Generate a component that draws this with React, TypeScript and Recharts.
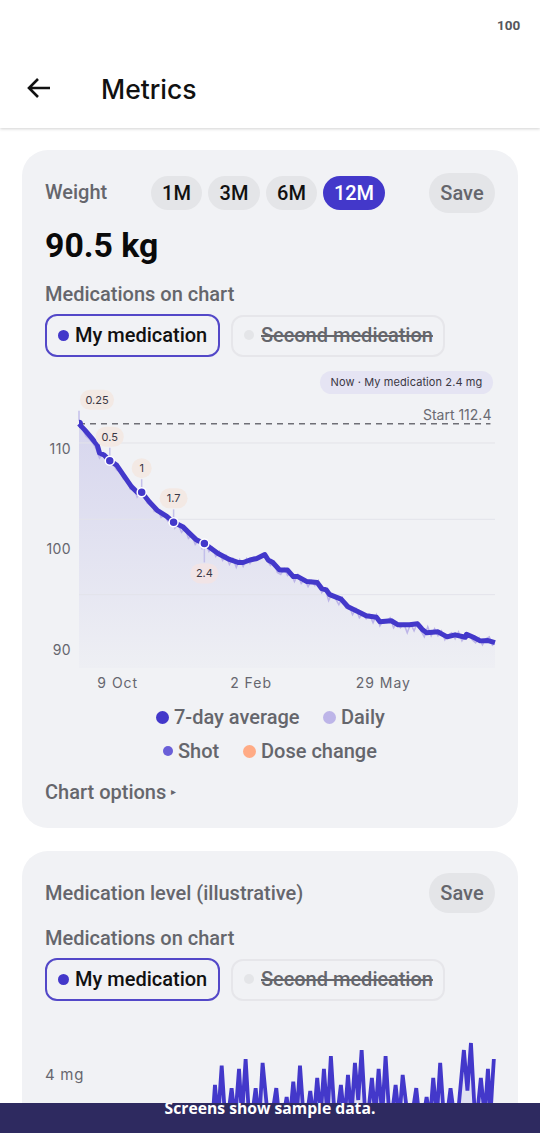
import React from 'react';
import { ComposedChart, Area, Line, XAxis, YAxis, ReferenceLine, Label } from 'recharts';

const INDIGO = '#4338ca';
const UI_FONT = 'Roboto, sans-serif';
const CHART_FONT = 'Inter, sans-serif';

// weight chart, x is days since the start of the 12M window
const avgDays = [0, 5, 11, 16, 18, 22, 27, 33, 39, 46, 51, 55, 62, 69, 77, 83, 91, 97, 103, 110, 116, 122, 127, 132, 140, 144, 150, 156, 163, 166, 170, 176, 183, 188, 192, 200, 209, 213, 217, 220, 230, 236, 245, 252, 261, 264, 274, 280, 290, 297, 301, 305, 315, 323, 330, 339, 340, 346, 352, 359, 365];
const avgWeight = [112.4, 111.8, 111.0, 110.3, 109.5, 109.3, 108.74, 108.3, 107.3, 106.15, 105.6, 105.6, 104.6, 103.76, 103.2, 102.6, 102.17, 101.5, 100.85, 100.5, 100.0, 99.5, 99.2, 98.9, 98.6, 98.6, 98.85, 99.0, 99.4, 98.85, 98.6, 97.85, 97.85, 97.2, 97.2, 96.7, 96.6, 96.0, 95.87, 95.4, 94.95, 94.2, 93.7, 93.3, 93.15, 92.7, 92.8, 92.4, 92.4, 92.5, 91.96, 91.6, 91.7, 91.2, 91.4, 91.16, 91.46, 91.16, 90.8, 90.83, 90.63];
// one reading every 3 days
const dailyWeight = [112.4, 111.9, 111.2, 110.9, 110.5, 109.9, 109.0, 109.5, 108.6, 108.3, 108.4, 107.8, 107.6, 106.9, 106.9, 105.9, 106.0, 105.1, 105.6, 105.2, 104.5, 104.7, 103.7, 103.9, 103.1, 103.3, 102.7, 102.9, 102.0, 102.4, 101.6, 102.0, 101.0, 101.3, 100.4, 100.8, 100.0, 100.6, 99.7, 100.1, 99.2, 99.7, 98.8, 99.3, 98.4, 99.0, 98.1, 98.9, 98.2, 99.0, 98.5, 99.1, 98.8, 99.2, 99.2, 98.8, 98.3, 98.7, 97.6, 97.4, 98.0, 97.3, 97.6, 96.7, 97.4, 96.5, 96.9, 96.2, 96.8, 96.3, 96.8, 95.6, 96.0, 94.8, 95.5, 95.0, 94.4, 95.1, 94.1, 94.3, 93.4, 94.0, 93.1, 93.5, 93.0, 93.4, 92.6, 93.4, 92.3, 92.9, 92.8, 93.1, 92.1, 92.6, 92.1, 92.5, 91.6, 92.5, 91.8, 92.6, 91.8, 91.2, 92.2, 91.3, 92.0, 91.3, 91.8, 90.9, 91.4, 91.6, 91.0, 91.7, 90.8, 91.3, 91.5, 90.9, 90.6, 91.1, 90.4, 91.0, 91.2, 90.3];
const doseDays = [0, 27, 55, 83, 110];
const doseWeight = [112.4, 108.74, 105.6, 102.6, 100.5];
const doseLabels = ['0.25', '0.5', '1', '1.7', '2.4'];
const weightTicks = [90, 100, 110];
const gridWeights = [110.5, 102.9, 95.4];
const dateTicks = [34, 151, 267];
const dateLabels = ['9 Oct', '2 Feb', '29 May'];
const startWeight = 112.4;

// medication level chart, peak and trough in turn
const levelDays = [0, 116, 119.3, 122, 125.2, 129, 133.9, 137, 140.4, 143, 146.2, 150, 155, 158, 161.1, 167, 173.1, 177, 182.2, 185, 188, 191, 193.9, 198, 202.9, 206, 209, 212, 214.9, 218, 221, 225, 229.8, 233, 236, 239, 242.1, 245, 248, 252, 257, 260, 262.9, 266, 269, 273, 277.8, 281, 284, 290, 295.9, 300, 305, 308, 310.8, 314, 316.9, 321, 326, 331, 337.7, 340.8, 343.9, 348, 352.6, 356, 358.8, 361, 364];
const levelValues = [2, 2, 3.69, 2.6, 4.29, 2.2, 3.59, 2.6, 4.19, 2.7, 4.5, 2.2, 3.59, 2.5, 4.38, 2.2, 3.59, 2.2, 3.31, 2.6, 3.79, 2.7, 4.29, 2.2, 3.5, 2.6, 3.91, 2.7, 4.19, 2.7, 4.59, 2.3, 3.69, 2.6, 4.0, 2.7, 4.38, 3.22, 4.78, 2.2, 3.91, 2.7, 4.19, 2.7, 4.59, 2.3, 3.69, 2.6, 4.0, 2.2, 3.59, 2.2, 3.31, 2.6, 3.91, 2.7, 4.38, 2.2, 3.59, 2.2, 4.78, 3.51, 5.0, 2.3, 3.91, 2.7, 4.19, 2.8, 4.5];

const avgData = avgDays.map((day, i) => ({ day, avg: avgWeight[i] }));
const dailyData = dailyWeight.map((daily, i) => ({ day: i * 3, daily }));
const doseData = doseDays.map((day, i) => ({ day, dose: doseWeight[i], label: doseLabels[i] }));
const levelData = levelDays.map((day, i) => ({ day, level: levelValues[i] }));

const DoseDot = (props: any) => {
  const { cx, cy, index, payload } = props;
  const below = index === 4;
  const w = payload.label.length > 3 ? 34 : payload.label.length > 1 ? 28 : 20;
  const lx = index === 0 ? cx + 18 : cx;
  const ly = below ? cy + 30 : cy - 24;
  const stemTop = below ? cy + 5 : cy - 13;
  const stemEnd = below ? cy + 19 : cy - 3;
  return (
    <g key={index}>
      <line x1={cx} x2={cx} y1={stemTop} y2={stemEnd} stroke="#c3bfea" strokeWidth={1.5} />
      <rect x={lx - w / 2} y={ly - 10} width={w} height={20} rx={10} fill={below ? '#f1e4e6' : '#f3e9e4'} />
      <text x={lx} y={ly + 4} textAnchor="middle" fontSize={11} fontFamily={CHART_FONT} fill="#3a3744">{payload.label}</text>
      {index === 0 ? (
        <path d={`M${cx} ${cy - 4}A4 4 0 0 1 ${cx} ${cy + 4}Z`} fill={INDIGO} />
      ) : (
        <circle cx={cx} cy={cy} r={4.5} fill={INDIGO} stroke="#fff" strokeWidth={1.5} />
      )}
    </g>
  );
};

const WeightChart = () => (
  <ComposedChart width={540} height={338} margin={{ top: 7, right: 45, bottom: 0, left: 0 }}>
    <defs>
      <linearGradient id="weightFill" x1="0" y1="0" x2="0" y2="1">
        <stop offset="0%" stopColor="#c5c3e9" />
        <stop offset="100%" stopColor="#ecedf3" />
      </linearGradient>
    </defs>
    <XAxis
      dataKey="day"
      type="number"
      domain={[0, 365]}
      ticks={dateTicks}
      tickFormatter={(d) => dateLabels[dateTicks.indexOf(d)]}
      height={30}
      axisLine={false}
      tickLine={false}
      tickMargin={4}
      tick={{ fontSize: 14, fill: '#66666e', fontFamily: CHART_FONT, letterSpacing: 1 }}
    />
    <YAxis
      type="number"
      domain={[88.1, 118.06]}
      ticks={weightTicks}
      width={79}
      axisLine={false}
      tickLine={false}
      tickSize={0}
      tickMargin={8}
      tick={{ fontSize: 14, fill: '#66666e', fontFamily: CHART_FONT, letterSpacing: 0.4, dy: 1 }}
    />
    <Area data={avgData} dataKey="avg" type="linear" stroke="none" fill="url(#weightFill)" isAnimationActive={false} />
    {gridWeights.map((g) => (
      <ReferenceLine key={g} y={g} stroke="#e3e3ea" strokeWidth={1} />
    ))}
    <ReferenceLine segment={[{ x: 0, y: startWeight }, { x: 361, y: startWeight }]} stroke="#6f6f76" strokeWidth={1.5} strokeDasharray="6 5">
      <Label value="Start 112.4" position="insideBottomRight" offset={3} dx={4} dy={-1} fontSize={14} fill="#6a6a72" fontFamily={CHART_FONT} />
    </ReferenceLine>
    <Line data={dailyData} dataKey="daily" type="linear" stroke="#bdb5e8" strokeWidth={1.5} dot={false} isAnimationActive={false} />
    <Line data={avgData} dataKey="avg" type="linear" stroke={INDIGO} strokeWidth={5} strokeLinejoin="round" dot={false} isAnimationActive={false} />
    <Line data={doseData} dataKey="dose" stroke="none" dot={DoseDot} isAnimationActive={false} />
  </ComposedChart>
);

const LevelChart = () => (
  <ComposedChart width={540} height={192} margin={{ top: 0, right: 45, bottom: 0, left: 0 }}>
    <XAxis dataKey="day" type="number" domain={[0, 365]} hide />
    <YAxis
      type="number"
      domain={[0, 6]}
      ticks={[4]}
      width={79}
      axisLine={false}
      tickLine={false}
      tick={(p: any) => (
        <text x={45} y={p.y + 5} fontSize={15} fill="#66666e" fontFamily={CHART_FONT} letterSpacing={0.7}>4 mg</text>
      )}
    />
    <Area data={levelData} dataKey="level" type="linear" stroke={INDIGO} strokeWidth={3.8} strokeLinejoin="bevel" fill="#d6d5ee" isAnimationActive={false} />
  </ComposedChart>
);

const Box = ({ x, y, w, h, style, children }: any) => (
  <div style={{ position: 'absolute', left: x, top: y, width: w, height: h, boxSizing: 'border-box', ...style }}>{children}</div>
);

// text is placed by its left edge and vertical centre
const Txt = ({ x, cy, size = 20, weight = 500, color = '#65666c', font = UI_FONT, style, children }: any) => (
  <div style={{ position: 'absolute', left: x, top: cy - 20, height: 40, lineHeight: '40px', fontSize: size, fontWeight: weight, color, fontFamily: font, whiteSpace: 'nowrap', ...style }}>
    {children}
  </div>
);

const Pill = ({ x, y, w, h, bg = '#e4e5e8', color = '#111', size = 20, children }: any) => (
  <Box x={x} y={y} w={w} h={h} style={{ background: bg, borderRadius: h / 2, color, fontFamily: UI_FONT, fontSize: size, fontWeight: 500, textAlign: 'center', lineHeight: h + 'px' }}>
    {children}
  </Box>
);

const Dot = ({ cx, cy, r, color }: any) => (
  <Box x={cx - r} y={cy - r} w={r * 2} h={r * 2} style={{ borderRadius: '50%', background: color }} />
);

const MedChips = ({ y }: any) => (
  <>
    <Box x={45} y={y} w={175} h={43} style={{ border: '2px solid #5348c8', borderRadius: 12 }} />
    <Dot cx={63} cy={y + 21} r={5.5} color={INDIGO} />
    <Txt x={75} cy={y + 21} size={20} color="#111">My medication</Txt>
    <Box x={231} y={y + 1} w={214} h={42} style={{ border: '2px solid #e6e6ea', borderRadius: 12 }} />
    <Dot cx={249} cy={y + 21} r={5} color="#e4e5e8" />
    <Txt x={261} cy={y + 21} size={20} style={{ textDecoration: 'line-through' }}>Second medication</Txt>
  </>
);

export default function App() {
  return (
    <div style={{ position: 'fixed', left: 0, top: 0, width: 540, height: 1133, overflow: 'hidden', background: '#fff' }}>
      <Box x={0} y={0} w={540} h={128} style={{ background: '#fff', boxShadow: '0 1px 3px rgba(0,0,0,0.18)' }} />
      <Txt x={497} cy={25} size={13.5} weight={700} color="#55565c">100</Txt>
      <svg style={{ position: 'absolute', left: 26, top: 76 }} width={26} height={24} viewBox="0 0 26 24">
        <path d="M24 12 H3 M12 3 L3 12 L12 21" fill="none" stroke="#111" strokeWidth={2.6} />
      </svg>
      <Txt x={101} cy={89} size={26.5} color="#111" font={CHART_FONT}>Metrics</Txt>

      <Box x={22} y={150} w={496} h={678} style={{ background: '#f1f2f5', borderRadius: 26 }} />
      <Txt x={45} cy={192}>Weight</Txt>
      <Pill x={151} y={176} w={51} h={34}>1M</Pill>
      <Pill x={208} y={176} w={52} h={34}>3M</Pill>
      <Pill x={266} y={176} w={51} h={34}>6M</Pill>
      <Pill x={323} y={176} w={62} h={34} bg={INDIGO} color="#fff">12M</Pill>
      <Pill x={429} y={173} w={66} h={40} color="#65666c">Save</Pill>
      <Txt x={45} cy={246} size={33.8} weight={700} color="#0a0a0a">90.5 kg</Txt>
      <Txt x={45} cy={294}>Medications on chart</Txt>
      <MedChips y={314} />

      <Box x={0} y={360} w={540} h={338}>
        <WeightChart />
      </Box>
      <Pill x={320} y={371} w={173} h={23} bg="#e5e4f3" color="#3a3744" size={11}>
        <span style={{ fontFamily: CHART_FONT, fontWeight: 400, letterSpacing: 0.1 }}>Now · My medication 2.4 mg</span>
      </Pill>

      <Dot cx={162} cy={717} r={6.5} color={INDIGO} />
      <Txt x={174} cy={717}>7-day average</Txt>
      <Dot cx={329} cy={717} r={6.5} color="#bdb5e8" />
      <Txt x={341} cy={717}>Daily</Txt>
      <Dot cx={168} cy={751} r={5} color="#6a5fd8" />
      <Txt x={178} cy={751}>Shot</Txt>
      <Dot cx={249} cy={751} r={6.5} color="#ffab85" />
      <Txt x={261} cy={751}>Dose change</Txt>
      <Txt x={45} cy={792}>Chart options</Txt>
      <Txt x={171} cy={792} size={10}>▸</Txt>

      <Box x={22} y={851} w={496} h={340} style={{ background: '#f1f2f5', borderRadius: 26 }} />
      <Txt x={45} cy={893}>Medication level (illustrative)</Txt>
      <Pill x={429} y={873} w={66} h={40} color="#65666c">Save</Pill>
      <Txt x={45} cy={938}>Medications on chart</Txt>
      <MedChips y={958} />
      <Box x={0} y={1011} w={540} h={192}>
        <LevelChart />
      </Box>

      <Box x={0} y={1103} w={540} h={30} style={{ background: '#2e2a60' }} />
      <div style={{ position: 'absolute', left: 0, width: 540, top: 1098, textAlign: 'center', lineHeight: '20px', fontFamily: '"Open Sans", sans-serif', fontWeight: 700, fontSize: 15.7, color: '#fff', clipPath: 'inset(5px 0 0 0)' }}>
        Screens show sample data.
      </div>
    </div>
  );
}
